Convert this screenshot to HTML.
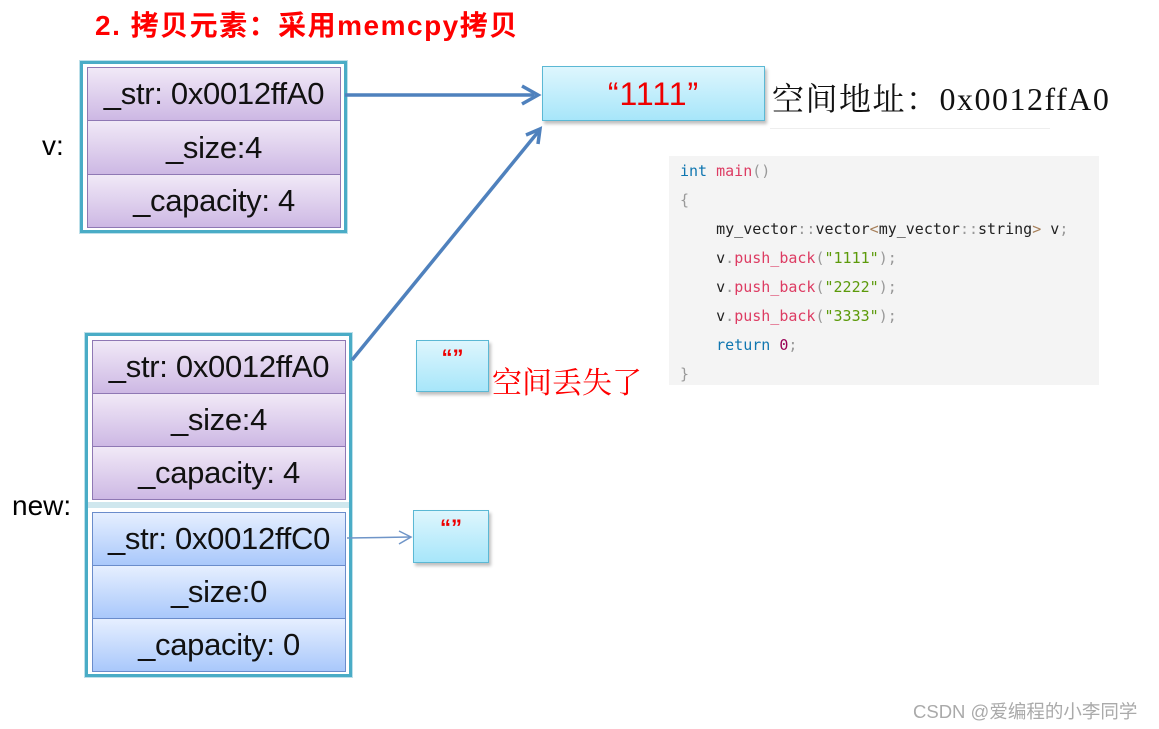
<!DOCTYPE html>
<html><head><meta charset="utf-8"><style>
body{margin:0;width:1159px;height:729px;background:#fff;position:relative;overflow:hidden;font-family:"Liberation Sans","Noto Sans CJK SC",sans-serif}
.a{position:absolute}
.outer{position:absolute;border:3px solid #4aacc6;box-shadow:0 0 0 1px #bde0ea}
.cell{position:absolute;box-sizing:border-box;text-align:center;font-family:"Liberation Sans","Noto Sans CJK SC",sans-serif;font-size:31px;color:#111;letter-spacing:-0.3px}
.p{background:linear-gradient(#f1e9f7,#cdb8e4);border:1.5px solid #8f78b4}
.b{background:linear-gradient(#e6efff,#a9c8fb);border:1.5px solid #6a8ccb}
.cy{position:absolute;box-sizing:border-box;background:linear-gradient(#def6fd,#a7e6fa);border:1.5px solid #5bb8d4;box-shadow:2px 3px 3px rgba(0,0,0,.25);text-align:center;color:#e00;font-weight:bold}
.code{position:absolute;left:669px;top:156px;width:430px;height:229px;background:#f4f4f4;font-family:"DejaVu Sans Mono","Liberation Mono",monospace;font-size:15px;color:#222}
.code div{position:absolute;left:11px;white-space:pre}
.k{color:#0f76b0}.f{color:#dd3c63}.s{color:#5c9a0a}.g{color:#999}.n{color:#990055}
</style></head><body>
<div class="a" style="left:95px;top:4px;font-size:28px;letter-spacing:1.5px;font-weight:bold;color:#f00;font-family:'Liberation Sans','Noto Sans CJK SC',sans-serif">2. 拷贝元素：采用memcpy拷贝</div>

<div class="a" style="left:42px;top:130px;font-size:28px">v:</div>
<div class="outer" style="left:80px;top:61px;width:261px;height:166px"></div>
<div class="cell p" style="left:87px;top:67px;width:254px;height:54px;line-height:52px">_str: 0x0012ffA0</div>
<div class="cell p" style="left:87px;top:120px;width:254px;height:55px;line-height:53px">_size:4</div>
<div class="cell p" style="left:87px;top:174px;width:254px;height:54px;line-height:52px">_capacity: 4</div>

<div class="cy" style="left:542px;top:66px;width:223px;height:55px;line-height:54px;font-size:32px;letter-spacing:1px;font-weight:normal">“1111”</div>
<div class="a" style="left:772px;top:74px;font-size:32px;letter-spacing:1.5px;font-family:'Liberation Serif','Noto Serif CJK SC',serif;color:#111">空间地址：0x0012ffA0</div>
<div class="a" style="left:770px;top:128px;width:280px;height:1px;background:#eee"></div>

<div class="code">
<div style="top:6px"><span class="k">int</span> <span class="f">main</span><span class="g">()</span></div>
<div style="top:35px" class="g">{</div>
<div style="top:64px">    my_vector<span class="g">::</span>vector<span style="color:#a67f59">&lt;</span>my_vector<span class="g">::</span>string<span style="color:#a67f59">&gt;</span> v<span class="g">;</span></div>
<div style="top:93px">    v<span class="g">.</span><span class="f">push_back</span><span class="g">(</span><span class="s">"1111"</span><span class="g">);</span></div>
<div style="top:122px">    v<span class="g">.</span><span class="f">push_back</span><span class="g">(</span><span class="s">"2222"</span><span class="g">);</span></div>
<div style="top:151px">    v<span class="g">.</span><span class="f">push_back</span><span class="g">(</span><span class="s">"3333"</span><span class="g">);</span></div>
<div style="top:180px">    <span class="k">return</span> <span class="n">0</span><span class="g">;</span></div>
<div style="top:209px" class="g">}</div>
</div>

<div class="a" style="left:12px;top:490px;font-size:28px">new:</div>
<div class="outer" style="left:85px;top:333px;width:261px;height:338px"></div>
<div class="cell p" style="left:92px;top:340px;width:254px;height:54px;line-height:52px">_str: 0x0012ffA0</div>
<div class="cell p" style="left:92px;top:393px;width:254px;height:54px;line-height:52px">_size:4</div>
<div class="cell p" style="left:92px;top:446px;width:254px;height:54px;line-height:52px">_capacity: 4</div>
<div class="a" style="left:88px;top:502px;width:261px;height:6px;background:#cfe7ee"></div>
<div class="cell b" style="left:92px;top:512px;width:254px;height:54px;line-height:52px">_str: 0x0012ffC0</div>
<div class="cell b" style="left:92px;top:565px;width:254px;height:54px;line-height:52px">_size:0</div>
<div class="cell b" style="left:92px;top:618px;width:254px;height:54px;line-height:52px">_capacity: 0</div>

<div class="cy" style="left:416px;top:340px;width:73px;height:52px;font-size:22px;line-height:34px">“”</div>
<div class="a" style="left:492px;top:358px;font-size:30px;color:#f00;font-family:'Noto Serif CJK SC',serif">空间丢失了</div>
<div class="cy" style="left:413px;top:510px;width:76px;height:53px;font-size:22px;line-height:34px">“”</div>

<svg class="a" style="left:0;top:0" width="1159" height="729">
<line x1="345" y1="95" x2="534" y2="95" stroke="#4f81bd" stroke-width="3.5"/>
<polyline points="522,86 538,95 522,104" fill="none" stroke="#4f81bd" stroke-width="3.5"/>
<line x1="352" y1="360" x2="538" y2="132" stroke="#4f81bd" stroke-width="3.5"/>
<polyline points="526,135 540,129 538,144" fill="none" stroke="#4f81bd" stroke-width="3.5"/>
<line x1="347" y1="538" x2="410" y2="537" stroke="#6f95c8" stroke-width="1.5"/>
<polyline points="399,531 411,537 399,544" fill="none" stroke="#6f95c8" stroke-width="1.5"/>
</svg>

<div class="a" style="left:913px;top:698px;font-size:18.5px;color:#aaa;font-family:'Liberation Sans','Noto Sans CJK SC',sans-serif">CSDN @爱编程的小李同学</div>
</body></html>
